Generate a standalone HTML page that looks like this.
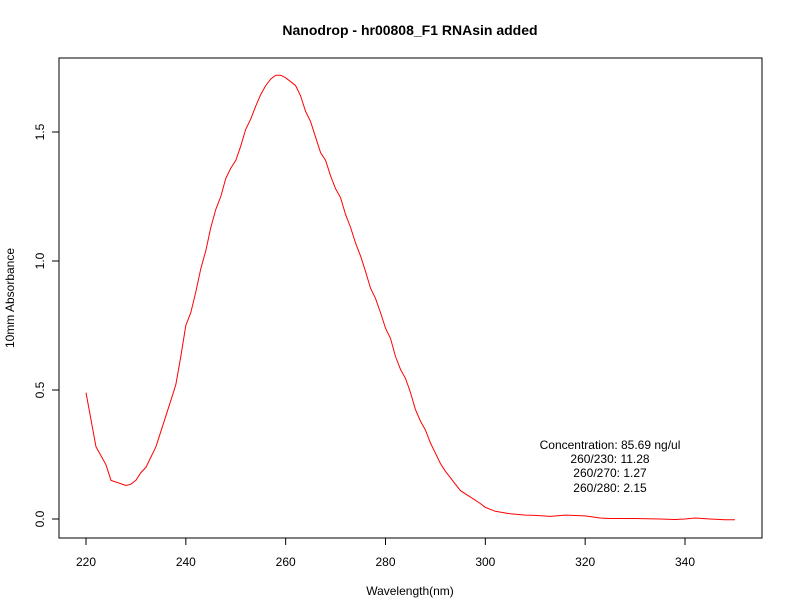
<!DOCTYPE html>
<html><head><meta charset="utf-8"><style>
body{margin:0;background:#fff;}
svg{display:block;font-family:"Liberation Sans",sans-serif;}
</style></head><body>
<svg width="792" height="612" id="chart">
<rect width="792" height="612" fill="#fff"/>
<text x="410" y="35" text-anchor="middle" font-size="14" font-weight="bold">Nanodrop - hr00808_F1 RNAsin added</text>
<rect x="59" y="58" width="703" height="480" fill="none" stroke="#000"/>
<g id="xaxis"></g>
<g id="yaxis"></g>
<text x="410" y="595" text-anchor="middle" font-size="12">Wavelength(nm)</text>
<text transform="translate(14,298) rotate(-90)" text-anchor="middle" font-size="12">10mm Absorbance</text>
<path id="curve" fill="none" stroke="#ff0000" stroke-width="1"/>
<g font-size="12" text-anchor="middle">
<text x="610" y="449">Concentration: 85.69 ng/ul</text>
<text x="610" y="463">260/230: 11.28</text>
<text x="610" y="477">260/270: 1.27</text>
<text x="610" y="492">260/280: 2.15</text>
</g>
</svg>
<script>
const wavelengths=[220,222,224,225,228,229,230,231,232,234,235,237,238,239,240,241,242,243,244,245,246,247,248,249,250,251,252,253,254,255,256,257,258,259,260,261,262,263,264,265,266,267,268,269,270,271,272,273,274,275,276,277,278,279,280,281,282,283,284,285,286,287,288,289,290,291,292,293,294,295,297,299,300,302,305,308,310,313,316,320,323,325,330,335,338,340,342,345,348,350];
const absorbance=[0.49,0.28,0.21,0.15,0.13,0.135,0.15,0.18,0.2,0.28,0.34,0.46,0.52,0.63,0.75,0.8,0.88,0.97,1.04,1.13,1.2,1.25,1.32,1.36,1.39,1.445,1.51,1.55,1.6,1.645,1.68,1.705,1.72,1.72,1.71,1.695,1.68,1.64,1.58,1.54,1.48,1.42,1.39,1.33,1.28,1.245,1.18,1.13,1.07,1.02,0.96,0.895,0.855,0.8,0.74,0.7,0.63,0.58,0.545,0.49,0.425,0.38,0.345,0.295,0.255,0.215,0.185,0.16,0.135,0.11,0.085,0.06,0.045,0.03,0.02,0.015,0.014,0.01,0.015,0.012,0.004,0.002,0.002,0,-0.002,0,0.004,0,-0.003,-0.003];
const xTicks=[220,240,260,280,300,320,340];
const yTicks=[0,0.5,1.0,1.5];
const yTickLabels=["0.0","0.5","1.0","1.5"];
const xs=v=>86+(v-220)*(599/120);
const ys=v=>519-v*258;
const NS="http://www.w3.org/2000/svg";
const xa=document.getElementById('xaxis'),ya=document.getElementById('yaxis');
xTicks.forEach(t=>{
 const l=document.createElementNS(NS,'line');
 
 
 l.setAttribute('x1',xs(t));l.setAttribute('x2',xs(t));l.setAttribute('y1',538);l.setAttribute('y2',545);l.setAttribute('stroke','#000');
 xa.appendChild(l);
 const tx=document.createElementNS(NS,'text');
 
 
 tx.setAttribute('x',xs(t));tx.setAttribute('y',566);tx.setAttribute('text-anchor','middle');tx.setAttribute('font-size','12');
 tx.textContent=t;xa.appendChild(tx);
});
yTicks.forEach((t,i)=>{
 const l=document.createElementNS(NS,'line');
 
 
 l.setAttribute('x1',52);l.setAttribute('x2',59);l.setAttribute('y1',ys(t));l.setAttribute('y2',ys(t));l.setAttribute('stroke','#000');
 ya.appendChild(l);
 const tx=document.createElementNS(NS,'text');
 
 
 tx.setAttribute('transform','translate(44,'+ys(t)+') rotate(-90)');tx.setAttribute('text-anchor','middle');tx.setAttribute('font-size','12');
 tx.textContent=yTickLabels[i];ya.appendChild(tx);
});
document.getElementById('curve').setAttribute('d',wavelengths.map((w,i)=>(i?'L':'M')+xs(w).toFixed(1)+','+ys(absorbance[i]).toFixed(1)).join(''));
</script>
</body></html>
